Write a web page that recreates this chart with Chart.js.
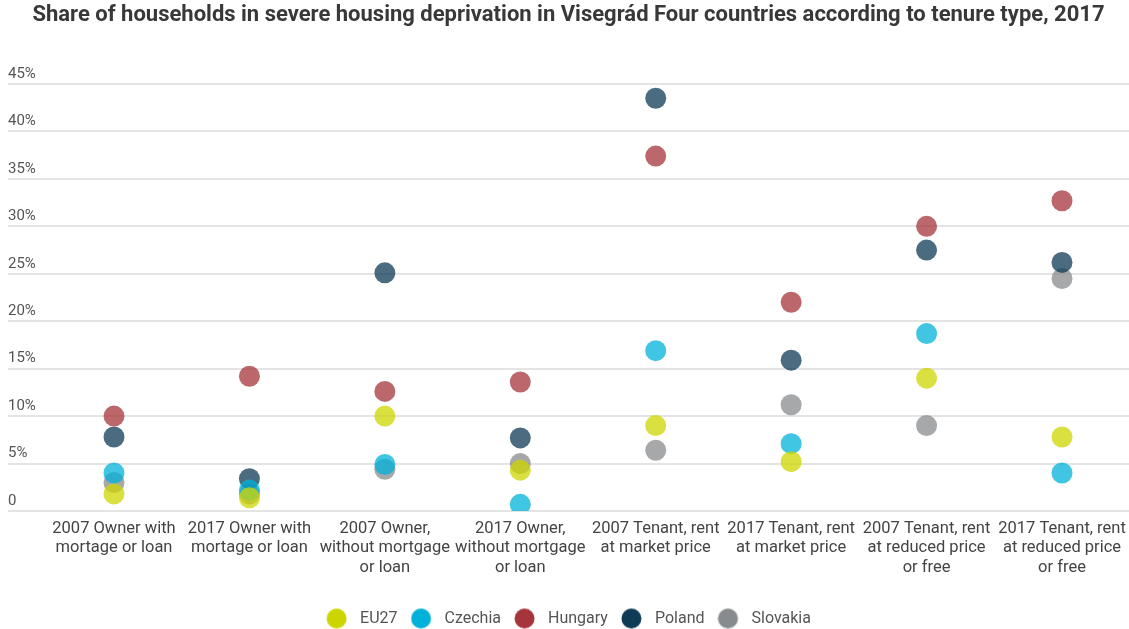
<!DOCTYPE html>
<html lang="en">
<head>
<meta charset="UTF-8">
<title>Severe housing deprivation, V4</title>
<script src="https://cdn.jsdelivr.net/npm/chart.js"></script>
<style>
  body { margin: 0; background: #fff; overflow: hidden; }
  #wrap { width: 1129px; height: 629px; }
</style>
</head>
<body>
<div id="wrap"><canvas id="dotChart"></canvas></div>
<script>
  // tenure types (x axis), each label split into lines
  var categories = [
    ["2007 Owner with", "mortage or loan"],
    ["2017 Owner with", "mortage or loan"],
    ["2007 Owner,", "without mortgage", "or loan"],
    ["2017 Owner,", "without mortgage", "or loan"],
    ["2007 Tenant, rent", "at market price"],
    ["2017 Tenant, rent", "at market price"],
    ["2007 Tenant, rent", "at reduced price", "or free"],
    ["2017 Tenant, rent", "at reduced price", "or free"]
  ];

  // share of households, %
  var eu27     = [1.8, 1.4, 10.0, 4.3, 9.0, 5.2, 14.0, 7.8];
  var czechia  = [4.0, 2.2, 4.9, 0.7, 16.9, 7.1, 18.7, 4.0];
  var hungary  = [10.0, 14.2, 12.6, 13.6, 37.4, 22.0, 30.0, 32.7];
  var poland   = [7.8, 3.4, 25.1, 7.7, 43.5, 15.9, 27.5, 26.2];
  var slovakia = [3.0, 1.8, 4.4, 5.0, 6.4, 11.2, 9.0, 24.5];

  var seriesNames  = ["EU27", "Czechia", "Hungary", "Poland", "Slovakia"];
  var seriesValues = [eu27, czechia, hungary, poland, slovakia];
  var seriesColors = ["#cdd500", "#00b1da", "#a5343b", "#0f3b55", "#888b8d"];

  var yTicks      = [0, 5, 10, 15, 20, 25, 30, 35, 40, 45];
  var yTickLabels = ["0", "5%", "10%", "15%", "20%", "25%", "30%", "35%", "40%", "45%"];

  Chart.defaults.font.family = "Roboto, 'Noto Sans', sans-serif";

  // legend marker: solid dot on the left of a small canvas, leaves a gap before the text
  function legendDot(color) {
    var c = document.createElement("canvas");
    c.width = 26;
    c.height = 22;
    var g = c.getContext("2d");
    g.fillStyle = color;
    g.beginPath();
    g.arc(10.5, 11, 10, 0, Math.PI * 2);
    g.fill();
    return c;
  }

  var datasets = seriesNames.map(function (name, s) {
    return {
      label: name,
      data: seriesValues[s].map(function (v, i) { return { x: i, y: v }; }),
      backgroundColor: seriesColors[s] + "BF",
      borderWidth: 0,
      pointRadius: 10.5,
      pointHoverRadius: 10.5,
      showLine: false
    };
  });

  new Chart(document.getElementById("dotChart"), {
    type: "scatter",
    data: { datasets: datasets },
    options: {
      responsive: true,
      maintainAspectRatio: false,
      animation: false,
      layout: { autoPadding: false, padding: { left: 8, right: 0, top: 0, bottom: -7.5 } },
      plugins: {
        title: {
          display: true,
          text: "Share of households in severe housing deprivation in Visegrád Four countries according to tenure type, 2017",
          color: "#383838",
          font: { size: 22, weight: "bold" },
          padding: { top: 2, bottom: 55.6 }
        },
        legend: {
          position: "bottom",
          labels: {
            usePointStyle: true,
            pointStyleWidth: 26,
            padding: 13,
            color: "#555",
            font: { size: 16 },
            generateLabels: function (chart) {
              return chart.data.datasets.map(function (ds, i) {
                return {
                  text: ds.label,
                  fillStyle: seriesColors[i],
                  strokeStyle: seriesColors[i],
                  lineWidth: 0,
                  pointStyle: legendDot(seriesColors[i]),
                  fontColor: "#555",
                  hidden: false,
                  datasetIndex: i
                };
              });
            }
          }
        },
        tooltip: { enabled: false }
      },
      scales: {
        x: {
          type: "linear",
          min: -0.7827,
          max: 7.4947,
          afterBuildTicks: function (scale) {
            scale.ticks = categories.map(function (c, i) { return { value: i }; });
          },
          afterFit: function (scale) {
            scale.height = 86.5;
            scale.paddingLeft = 0;
            scale.paddingRight = 0;
          },
          grid: { display: false, drawTicks: true, tickLength: 8 },
          border: { display: false },
          ticks: {
            autoSkip: false,
            maxRotation: 0,
            padding: 0,
            color: "#444",
            font: { size: 16.5, lineHeight: 1.18 },
            callback: function (value) { return categories[value]; }
          }
        },
        y: {
          min: 0,
          max: 45,
          afterBuildTicks: function (scale) {
            scale.ticks = yTicks.map(function (v) { return { value: v }; });
          },
          grid: { color: "#e4e4e4", lineWidth: 2, drawTicks: false },
          border: { display: false },
          ticks: {
            mirror: true,
            padding: 0,
            labelOffset: -10,
            color: "#555",
            font: { size: 15 },
            callback: function (value) { return yTickLabels[yTicks.indexOf(value)]; }
          }
        }
      }
    }
  });
</script>
</body>
</html>
